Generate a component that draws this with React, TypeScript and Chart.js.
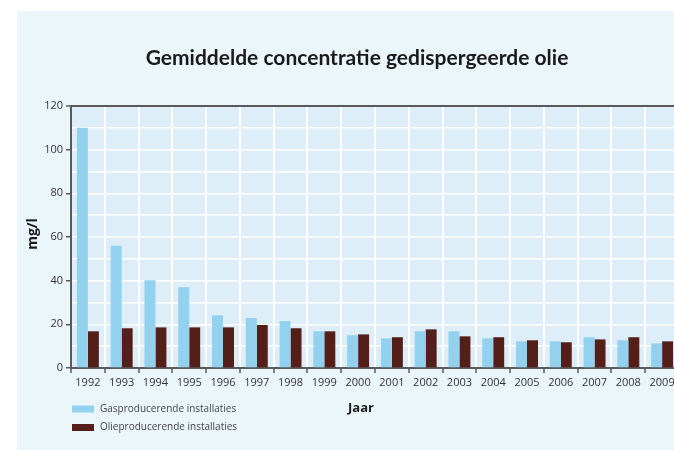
import React, { useEffect, useRef } from "react";
import { Chart, registerables } from "chart.js";

Chart.register(...registerables);

const years = ["1992","1993","1994","1995","1996","1997","1998","1999","2000","2001","2002","2003","2004","2005","2006","2007","2008","2009"];
const gasValues = [110, 56, 40.2, 37, 24.1, 22.9, 21.5, 16.8, 15, 13.6, 16.8, 16.8, 13.6, 12.2, 12.2, 14.1, 12.7, 11.3];
const oilValues = [16.8, 18.2, 18.6, 18.6, 18.6, 19.7, 18.2, 16.8, 15.4, 14.1, 17.7, 14.5, 14.1, 12.7, 11.8, 13.1, 14.1, 12.2];
const seriesLabels = ["Gasproducerende installaties", "Olieproducerende installaties"];
const titleText = "Gemiddelde concentratie gedispergeerde olie";
const xTitle = "Jaar";
const yTitle = "mg/l";
const yTicks = [0, 20, 40, 60, 80, 100, 120];

const GAS = "#92d2ee";
const OIL = "#541f18";
const PANEL = "#ebf6fb";
const PLOT = "#ddeef9";
const AXIS = "#5a5a5a";

const CW = 680;
const CH = 439;

const decorPlugin = {
  id: "decor",
  beforeDraw(chart: any) {
    const { ctx, chartArea } = chart;
    ctx.save();
    ctx.fillStyle = PANEL;
    ctx.fillRect(0, 0, chart.width, chart.height);
    ctx.fillStyle = PLOT;
    ctx.fillRect(chartArea.left, chartArea.top, chartArea.right - chartArea.left, chartArea.bottom - chartArea.top);
    ctx.restore();
  },
  afterDraw(chart: any) {
    const { ctx } = chart;
    ctx.save();
    // title
    ctx.fillStyle = "#1a1a1a";
    ctx.font = "700 21px Lato";
    ctx.textAlign = "center";
    ctx.textBaseline = "alphabetic";
    ctx.fillText(titleText, 340, 54);
    // y title
    ctx.save();
    ctx.translate(16, 223);
    ctx.rotate(-Math.PI / 2);
    ctx.font = "700 14px 'Open Sans'";
    ctx.textAlign = "center";
    ctx.textBaseline = "middle";
    ctx.fillStyle = "#1a1a1a";
    ctx.fillText(yTitle, 0, 0);
    ctx.restore();
    // x title
    ctx.font = "700 13px 'Open Sans'";
    ctx.textAlign = "center";
    ctx.textBaseline = "middle";
    ctx.fillStyle = "#1a1a1a";
    ctx.fillText(xTitle, 344, 397);
    // legend
    const colors = [GAS, OIL];
    const ys = [398, 416.5];
    ctx.font = "10px 'Open Sans'";
    ctx.textAlign = "left";
    for (let i = 0; i < 2; i++) {
      ctx.fillStyle = colors[i];
      ctx.fillRect(55, ys[i] - 3.5, 22, 7);
      ctx.fillStyle = "#444";
      ctx.fillText(seriesLabels[i], 83, ys[i]);
    }
    ctx.restore();
  },
};

export default function App() {
  const ref = useRef<HTMLCanvasElement | null>(null);
  useEffect(() => {
    if (!ref.current) return;
    Chart.defaults.font.family = "'Open Sans', sans-serif";
    const chart = new Chart(ref.current, {
      type: "bar",
      data: {
        labels: years,
        datasets: [
          { label: seriesLabels[0], data: gasValues, backgroundColor: GAS, categoryPercentage: 0.65, barPercentage: 1 },
          { label: seriesLabels[1], data: oilValues, backgroundColor: OIL, categoryPercentage: 0.65, barPercentage: 1 },
        ],
      },
      options: {
        animation: false,
        responsive: false,
        devicePixelRatio: 1,
        layout: { padding: { top: 95, right: 18, left: 0, bottom: 0 } },
        plugins: { legend: { display: false }, title: { display: false }, tooltip: { enabled: false } },
        scales: {
          x: {
            afterFit: (s: any) => { s.height = CH - 357 - 0; },
            grid: { offset: true, color: "#ffffff", lineWidth: 2, tickColor: AXIS, tickLength: 5, tickWidth: 1.5 },
            border: { display: true, color: AXIS, width: 2 },
            ticks: { color: "#333", font: { size: 11 }, padding: 3, maxRotation: 0, autoSkip: false },
          },
          y: {
            min: 0,
            max: 120,
            afterFit: (s: any) => { s.width = 54; },
            afterBuildTicks: (s: any) => {
              const t: any[] = [];
              for (let v = 0; v <= 120; v += 10) t.push({ value: v });
              s.ticks = t;
            },
            grid: {
              color: (c: any) => (c.tick && (c.tick.value === 120 || c.tick.value === 0) ? AXIS : "#ffffff"),
              lineWidth: (c: any) => (c.tick && c.tick.value === 120 ? 2 : 1.5),
              tickColor: (c: any) => (c.tick && yTicks.includes(c.tick.value) ? AXIS : "rgba(0,0,0,0)"),
              tickLength: 5,
              tickWidth: 1.5,
            },
            border: { display: true, color: AXIS, width: 2 },
            ticks: {
              color: "#333",
              font: { size: 11 },
              padding: 3,
              autoSkip: false,
              callback: (v: any) => (yTicks.includes(Number(v)) ? String(v) : ""),
            },
          },
        },
      },
      plugins: [decorPlugin],
    });
    return () => chart.destroy();
  }, []);
  return (
    <div style={{ position: "fixed", left: 0, top: 0, width: 674, height: 450, overflow: "hidden", background: "#ffffff" }}>
      <div style={{ position: "absolute", left: 17, top: 11, width: CW, height: CH }}>
        <canvas ref={ref} width={CW} height={CH} style={{ display: "block", width: CW, height: CH }} />
      </div>
    </div>
  );
}
